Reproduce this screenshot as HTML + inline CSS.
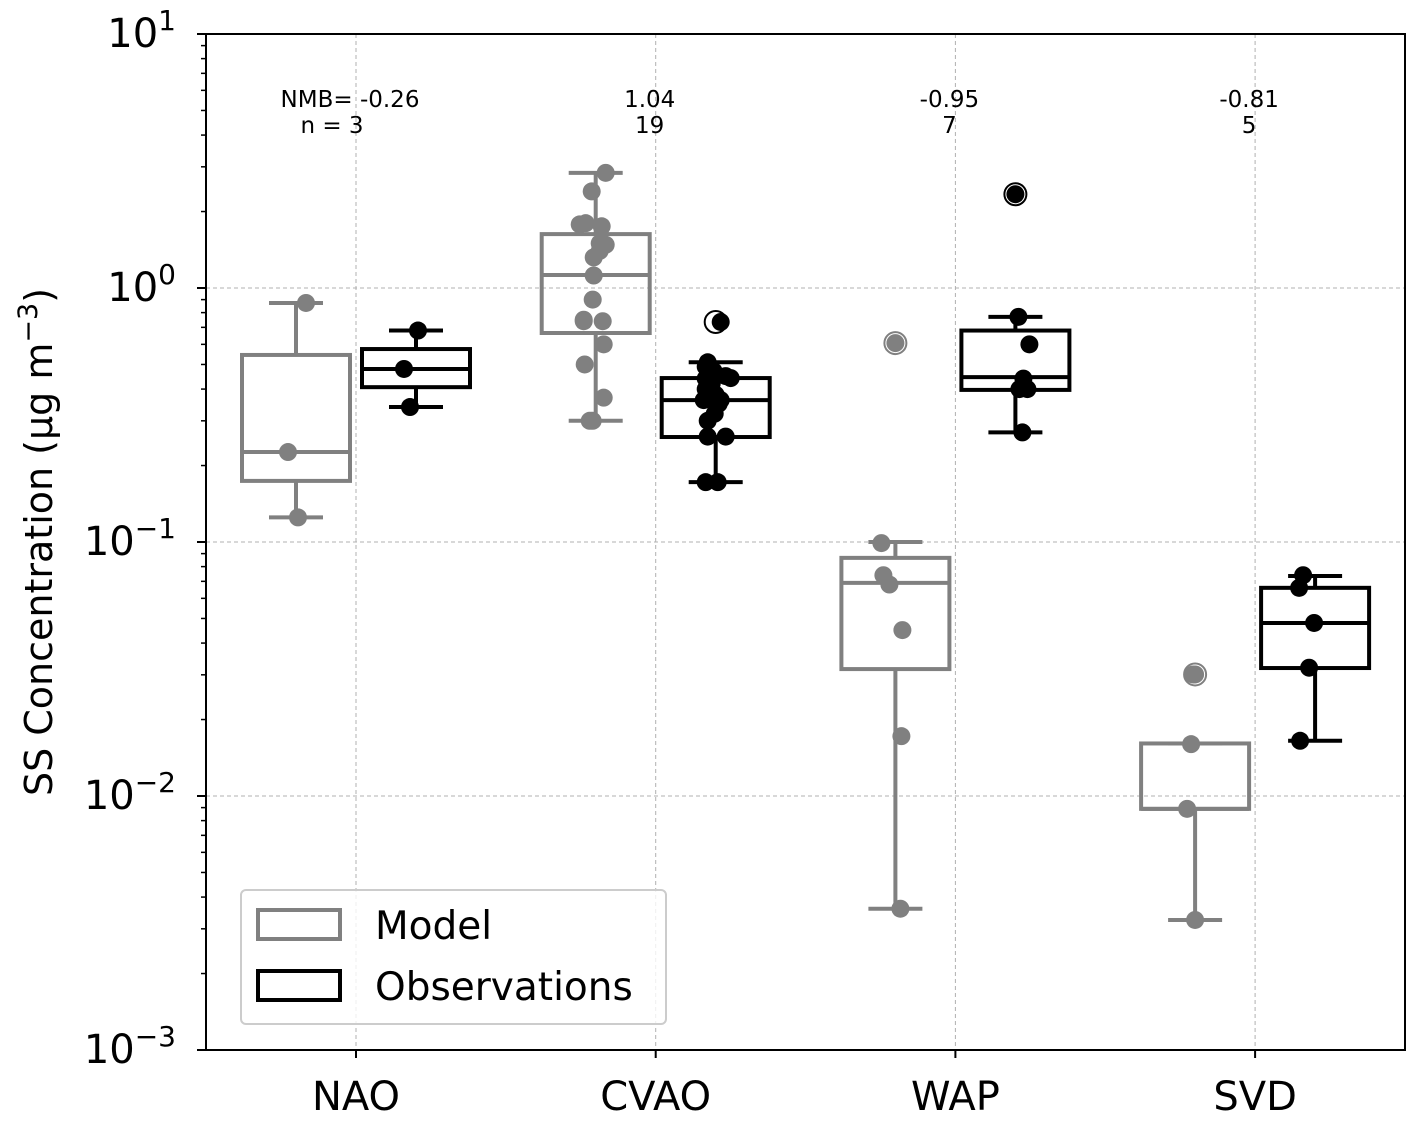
<!DOCTYPE html>
<html><head><meta charset="utf-8"><style>
body{margin:0;background:#fff}
svg{font-family:"DejaVu Sans","Liberation Sans",sans-serif}
</style></head><body>
<svg id="chart" width="1422" height="1124" viewBox="0 0 1422 1124" xmlns="http://www.w3.org/2000/svg">
<g id="grid"></g><g id="marks"></g><g id="axes"></g>
</svg>
<script>
const categories = ["NAO","CVAO","WAP","SVD"];
const nmbLabels = ["NMB= -0.26","1.04","-0.95","-0.81"];
const nLabels = ["n = 3","19","7","5"];
// box stats: [whiskerLow, q1, median, q3, whiskerHigh]
const modelStats = [[0.125,0.174,0.226,0.545,0.873],[0.30,0.665,1.125,1.63,2.84],[0.0036,0.0316,0.069,0.0866,0.1],[0.00325,0.0089,0.0089,0.0161,0.0161]];
const obsStats = [[0.34,0.407,0.48,0.575,0.68],[0.172,0.259,0.362,0.442,0.51],[0.27,0.397,0.446,0.68,0.77],[0.0165,0.0319,0.048,0.066,0.0735]];
const modelFliers = [[],[],[0.607],[0.0301]];
const obsFliers = [[],[0.735],[2.34],[]];
const modelPoints = [[0.873,0.226,0.125],
 [2.84,2.4,1.78,1.75,1.48,1.4,1.32,1.12,0.9,0.75,0.74,0.74,0.6,0.5,0.37,0.30,0.30,1.5,1.8],
 [0.607,0.099,0.074,0.068,0.045,0.0172,0.0036],
 [0.0301,0.016,0.0089,0.00325,0.0301]];
const obsPoints = [[0.68,0.48,0.34],
 [0.735,0.51,0.49,0.442,0.44,0.40,0.362,0.362,0.35,0.32,0.26,0.26,0.172,0.172,0.45,0.38,0.42,0.30,0.47],
 [2.34,0.77,0.60,0.44,0.40,0.40,0.27],
 [0.074,0.066,0.048,0.032,0.0165]];
const modelJitter=[[10,-8,2],[10,-4,-16,6,10,4,-2,-2,-3,-12,7,-12,8,-11,8,-6,-3,4,-10],[0,-14,-12,-6,7,6,5],[0,-4,-8,0,-2]];
const obsJitter=[[2,-12,-6],[5,-8,-10,15,-10,-10,-12,5,3,-1,-8,10,-10,2,10,0,-4,-8,-2],[0,3,14,8,4,12,7],[-12,-16,-1,-6,-15]];
const yTicks=[-3,-2,-1,0,1];

const X0=206,X1=1405,Y0=34,Y1=1050;
const yScale=v=>288-254*Math.log10(v);
const xCat=i=>356+i*299.7;
const NS="http://www.w3.org/2000/svg";
function el(tag,attrs,parent,text){const e=document.createElementNS(NS,tag);for(const k in attrs)e.setAttribute(k,attrs[k]);if(text!==undefined)e.textContent=text;parent.appendChild(e);return e;}
const grid=document.getElementById('grid'),marks=document.getElementById('marks'),axes=document.getElementById('axes');

yTicks.forEach(t=>{if(t>-3&&t<1){const g=el('line',{x1:X0,x2:X1,y1:yScale(10**t),y2:yScale(10**t),stroke:'#b0b0b0','stroke-width':1,'stroke-dasharray':'4,3'},grid);

}});
categories.forEach((c,i)=>{const g=el('line',{x1:xCat(i),x2:xCat(i),y1:Y0,y2:Y1,stroke:'#b0b0b0','stroke-width':1,'stroke-dasharray':'4,3'},grid);

});

function drawBox(stats,cx,color,name){
  const g=el('g',{},marks);
  
  
  const [wl,q1,md,q3,wh]=stats, hw=54, cw=27;
  el('line',{x1:cx,x2:cx,y1:yScale(q1),y2:yScale(wl),stroke:color,'stroke-width':4},g);
  el('line',{x1:cx,x2:cx,y1:yScale(q3),y2:yScale(wh),stroke:color,'stroke-width':4},g);
  el('line',{x1:cx-cw,x2:cx+cw,y1:yScale(wl),y2:yScale(wl),stroke:color,'stroke-width':4},g);
  el('line',{x1:cx-cw,x2:cx+cw,y1:yScale(wh),y2:yScale(wh),stroke:color,'stroke-width':4},g);
  el('rect',{x:cx-hw,y:yScale(q3),width:2*hw,height:yScale(q1)-yScale(q3),fill:'none',stroke:color,'stroke-width':4},g);
  el('line',{x1:cx-hw,x2:cx+hw,y1:yScale(md),y2:yScale(md),stroke:color,'stroke-width':4},g);
}
function drawFliers(vals,cx,color){vals.forEach(v=>{const c=el('circle',{cx:cx,cy:yScale(v),r:11,fill:'none',stroke:color,'stroke-width':2},marks);

});}
function drawPoints(vals,jit,cx,color,name){vals.forEach((v,k)=>{const c=el('circle',{cx:cx+(jit[k]||0),cy:yScale(v),r:9,fill:color},marks);

});}

categories.forEach((c,i)=>{
  const mx=xCat(i)-60, ox=xCat(i)+60;
  drawBox(modelStats[i],mx,'#808080','model-box-'+c.toLowerCase());
  drawBox(obsStats[i],ox,'#000','obs-box-'+c.toLowerCase());
  drawFliers(modelFliers[i],mx,'#808080');
  drawFliers(obsFliers[i],ox,'#000');
  drawPoints(modelPoints[i],modelJitter[i],mx,'#808080','model-point');
  drawPoints(obsPoints[i],obsJitter[i],ox,'#000','obs-point');
  const t1=el('text',{x:xCat(i)-6,y:107,'font-size':23,'text-anchor':'middle'},marks,nmbLabels[i]);
  
  
  const t2=el('text',{x:xCat(i)-6+(i==0?-18:0),y:133,'font-size':23,'text-anchor':'middle'},marks,nLabels[i]);
  
  
  const xl=el('text',{x:xCat(i),y:1110,'font-size':40,'text-anchor':'middle'},axes,c);
  
  
  el('line',{x1:xCat(i),x2:xCat(i),y1:Y1,y2:Y1+8,stroke:'#000','stroke-width':2},axes);
});

yTicks.forEach(t=>{
  const y=yScale(10**t);
  el('line',{x1:X0-9,x2:X0,y1:y,y2:y,stroke:'#000','stroke-width':2},axes);
  const tx=el('text',{x:X0-30,y:y+13,'font-size':40,'text-anchor':'end'},axes);
  
  
  el('tspan',{},tx,'10');
  el('tspan',{dy:-17,'font-size':28},tx,String(t).replace('-','−'));
  if(t<1){for(let m=2;m<=9;m++){const ym=yScale(m*10**t);el('line',{x1:X0-5,x2:X0,y1:ym,y2:ym,stroke:'#000','stroke-width':1.5},axes);}}
});
const frame=el('rect',{x:X0,y:Y0,width:X1-X0,height:Y1-Y0,fill:'none',stroke:'#000','stroke-width':2},axes);


const yt=el('text',{transform:'translate(52,542) rotate(-90)','font-size':38,'text-anchor':'middle'},axes);


el('tspan',{},yt,'SS Concentration (µg m');
el('tspan',{dy:-15,'font-size':27},yt,'−3');
el('tspan',{dy:15},yt,')');

const lg=el('g',{},axes);


el('rect',{x:241,y:890,width:425,height:134,rx:5,fill:'#fff','fill-opacity':0.8,stroke:'#ccc','stroke-width':2},lg);
el('rect',{x:258,y:910,width:82,height:29,fill:'none',stroke:'#808080','stroke-width':4},lg);
el('rect',{x:258,y:971,width:82,height:29,fill:'none',stroke:'#000','stroke-width':4},lg);
const l1=el('text',{x:375,y:939,'font-size':39},lg,'Model');


const l2=el('text',{x:375,y:1000,'font-size':39},lg,'Observations');


</script>
</body></html>
